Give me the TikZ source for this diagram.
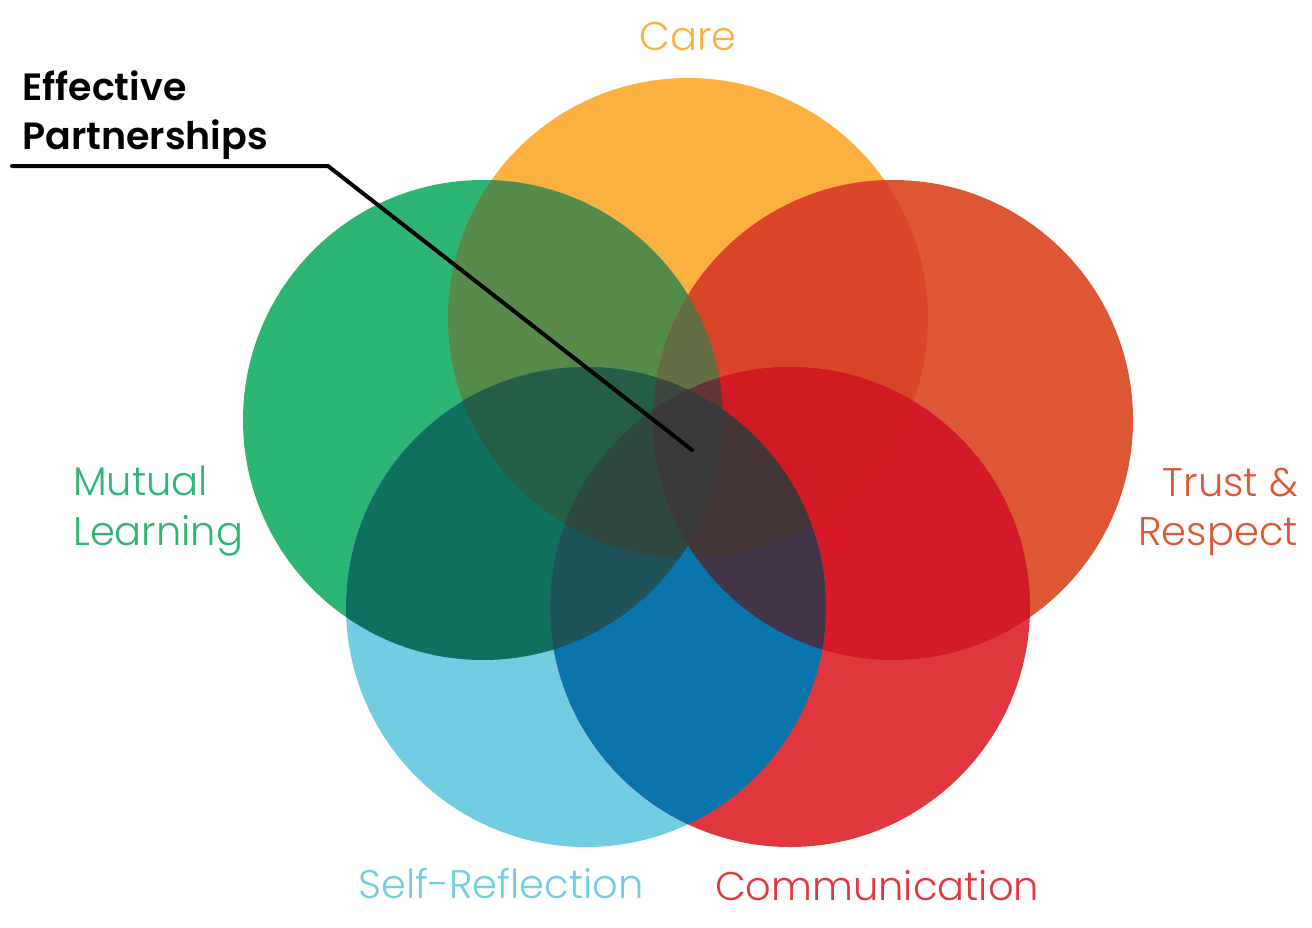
\documentclass[tikz,border=0pt]{standalone}
\usepackage{fontspec}
\setmainfont{Poppins}[UprightFont=* Light, BoldFont=* SemiBold]
\usetikzlibrary{positioning}

% base colours
\definecolor{careC}{RGB}{251,176,64}
\definecolor{mutualC}{RGB}{45,182,115}
\definecolor{trustC}{RGB}{222,87,52}
\definecolor{selfC}{RGB}{113,205,225}
\definecolor{commC}{RGB}{225,56,64}
% overlap colours
\definecolor{cmC}{RGB}{86,138,73}
\definecolor{ctC}{RGB}{218,69,42}
\definecolor{msC}{RGB}{16,112,96}
\definecolor{trC}{RGB}{212,26,40}
\definecolor{srC}{RGB}{10,117,173}
\definecolor{cmtC}{RGB}{99,110,67}
\definecolor{cmsC}{RGB}{36,94,71}
\definecolor{ctrC}{RGB}{210,26,34}
\definecolor{msrC}{RGB}{31,83,90}
\definecolor{trsC}{RGB}{67,53,73}
\definecolor{cmsrC}{RGB}{46,73,64}
\definecolor{ctrsC}{RGB}{69,53,55}
\definecolor{cmtsC}{RGB}{58,72,64}
\definecolor{cmtrC}{RGB}{99,53,53}
\definecolor{allC}{RGB}{58,58,60}

\newcommand{\rad}{240pt}

\begin{document}
\begin{tikzpicture}[x=1pt,y=-1pt,
    lbl/.style={font=\fontsize{40}{48}\selectfont, inner sep=0pt},
    heading/.style={font=\fontsize{38}{46}\selectfont\bfseries, inner sep=0pt, anchor=base west}]

\fill[white] (0,0) rectangle (1312,927);
\useasboundingbox (0,0) rectangle (1312,927);

% Circle centres
\coordinate (care) at (688,318);
\coordinate (mutual) at (483,420);
\coordinate (trust) at (893,420);
\coordinate (self) at (586,607);
\coordinate (comm) at (790,607);

% Single circles
\fill[careC] (care) circle[radius=\rad];
\fill[mutualC] (mutual) circle[radius=\rad];
\fill[trustC] (trust) circle[radius=\rad];
\fill[selfC] (self) circle[radius=\rad];
\fill[commC] (comm) circle[radius=\rad];

% Two-way overlaps
\begin{scope}\clip (care) circle[radius=\rad]; \fill[cmC] (mutual) circle[radius=\rad];\end{scope}
\begin{scope}\clip (care) circle[radius=\rad]; \fill[ctC] (trust) circle[radius=\rad];\end{scope}
\begin{scope}\clip (mutual) circle[radius=\rad]; \fill[msC] (self) circle[radius=\rad];\end{scope}
\begin{scope}\clip (trust) circle[radius=\rad]; \fill[trC] (comm) circle[radius=\rad];\end{scope}
\begin{scope}\clip (self) circle[radius=\rad]; \fill[srC] (comm) circle[radius=\rad];\end{scope}

% Three-way overlaps
\begin{scope}\clip (care) circle[radius=\rad]; \clip (mutual) circle[radius=\rad]; \fill[cmtC] (trust) circle[radius=\rad];\end{scope}
\begin{scope}\clip (care) circle[radius=\rad]; \clip (mutual) circle[radius=\rad]; \fill[cmsC] (self) circle[radius=\rad];\end{scope}
\begin{scope}\clip (care) circle[radius=\rad]; \clip (trust) circle[radius=\rad]; \fill[ctrC] (comm) circle[radius=\rad];\end{scope}
\begin{scope}\clip (mutual) circle[radius=\rad]; \clip (self) circle[radius=\rad]; \fill[msrC] (comm) circle[radius=\rad];\end{scope}
\begin{scope}\clip (trust) circle[radius=\rad]; \clip (comm) circle[radius=\rad]; \fill[trsC] (self) circle[radius=\rad];\end{scope}

% Four-way overlaps
\begin{scope}\clip (care) circle[radius=\rad]; \clip (mutual) circle[radius=\rad]; \clip (self) circle[radius=\rad]; \fill[cmsrC] (comm) circle[radius=\rad];\end{scope}
\begin{scope}\clip (care) circle[radius=\rad]; \clip (trust) circle[radius=\rad]; \clip (comm) circle[radius=\rad]; \fill[ctrsC] (self) circle[radius=\rad];\end{scope}
\begin{scope}\clip (care) circle[radius=\rad]; \clip (mutual) circle[radius=\rad]; \clip (trust) circle[radius=\rad]; \fill[cmtsC] (self) circle[radius=\rad];\end{scope}
\begin{scope}\clip (care) circle[radius=\rad]; \clip (mutual) circle[radius=\rad]; \clip (trust) circle[radius=\rad]; \fill[cmtrC] (comm) circle[radius=\rad];\end{scope}

% All five
\begin{scope}\clip (care) circle[radius=\rad]; \clip (mutual) circle[radius=\rad]; \clip (trust) circle[radius=\rad]; \clip (self) circle[radius=\rad]; \fill[allC] (comm) circle[radius=\rad];\end{scope}

% Labels
\node[lbl, anchor=base, text=careC] (careLabel) at (688,50) {Care};
\node[lbl, anchor=base west, text=mutualC] (mutualLabel) at (73,495) {Mutual};
\node[lbl, anchor=base west, text=mutualC] (learningLabel) at ([yshift=-50pt]mutualLabel.base west) {Learning};
\node[lbl, anchor=base east, text=trustC] (trustLabel) at (1298,496) {Trust \&};
\node[lbl, anchor=base east, text=trustC] (respectLabel) at ([yshift=-49pt]trustLabel.base east) {Respect};
\node[lbl, anchor=base, text=selfC] (selfLabel) at (501,898) {Self-Reflection};
\node[lbl, anchor=base, text=commC] (commLabel) at (877,900) {Communication};

% Pointer title
\node[heading] (effective) at (22,100) {Effective};
\node[heading] (partnerships) at ([yshift=-49pt]effective.base west) {Partnerships};
\coordinate (lineStart) at (12,166);
\coordinate (lineKnee) at (328,166);
\coordinate (lineEnd) at (692,450);
\draw[line width=4pt, line cap=round, line join=round] (lineStart) -- (lineKnee) -- (lineEnd);

\end{tikzpicture}
\end{document}
